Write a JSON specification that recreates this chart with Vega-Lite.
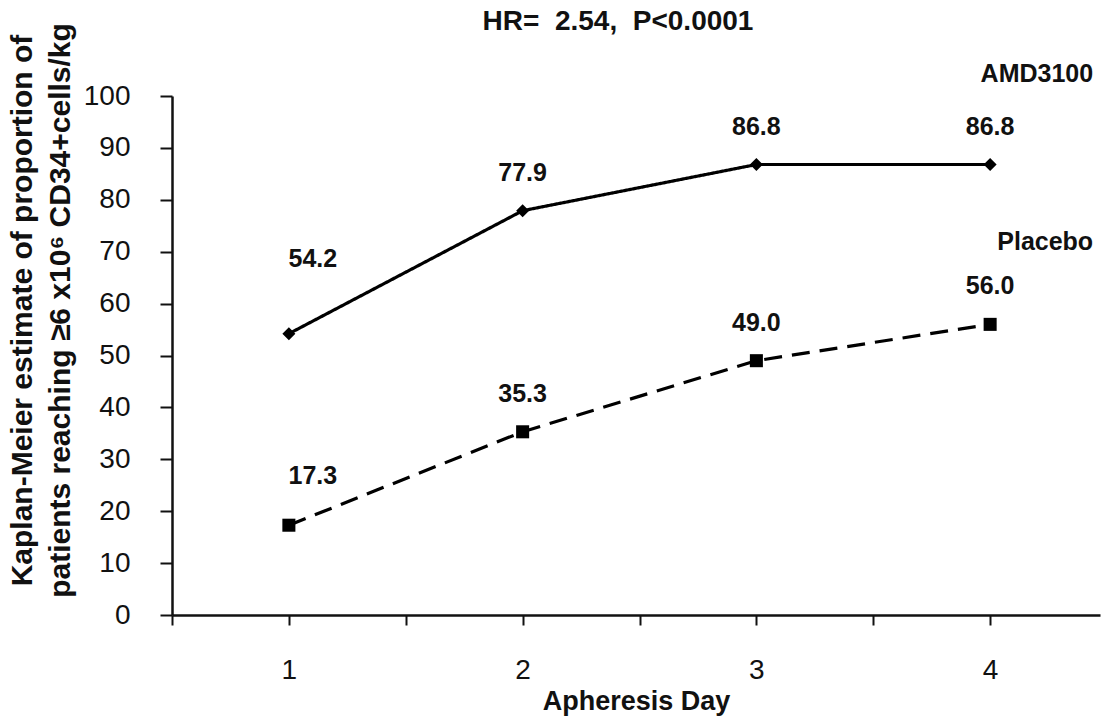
{
  "$schema": "https://vega.github.io/schema/vega-lite/v6.json",
  "autosize": "none",
  "width": 928,
  "height": 519,
  "padding": {"left": 172, "top": 96, "right": 1, "bottom": 101},
  "background": "white",
  "config": {
    "view": {"stroke": null},
    "font": "Liberation Sans"
  },
  "title": {
    "text": "HR=\u00a0 2.54,\u00a0 P<0.0001",
    "font": "Liberation Sans",
    "fontSize": 28,
    "fontWeight": "bold",
    "color": "#111",
    "anchor": "middle",
    "dx": -18,
    "offset": -13
  },
  "data": {
    "values": [
      {"day": 1, "pct": 54.2, "series": "AMD3100"},
      {"day": 2, "pct": 77.9, "series": "AMD3100"},
      {"day": 3, "pct": 86.8, "series": "AMD3100"},
      {"day": 4, "pct": 86.8, "series": "AMD3100"},
      {"day": 1, "pct": 17.3, "series": "Placebo"},
      {"day": 2, "pct": 35.3, "series": "Placebo"},
      {"day": 3, "pct": 49.0, "series": "Placebo"},
      {"day": 4, "pct": 56.0, "series": "Placebo"}
    ]
  },
  "encoding": {
    "x": {
      "field": "day",
      "type": "quantitative",
      "scale": {"domain": [0.5, 4.47], "nice": false, "zero": false},
      "axis": {
        "title": "Apheresis Day",
        "titleFont": "Liberation Sans",
        "titleFontSize": 27,
        "titleFontWeight": "bold",
        "titleColor": "#111",
        "titleBaseline": "middle",
        "titleY": 86,
        "values": [0.5, 1, 1.5, 2, 2.5, 3, 3.5, 4],
        "labelExpr": "datum.value % 1 === 0 ? format(datum.value, 'd') : ''",
        "labelFont": "Liberation Sans",
        "labelFontSize": 28,
        "labelColor": "#111",
        "labelPadding": 31,
        "labelFlush": false,
        "labelOverlap": false,
        "tickSize": 10,
        "tickWidth": 2,
        "tickColor": "#111",
        "domainColor": "#111",
        "domainWidth": 2.5,
        "grid": false
      }
    },
    "y": {
      "field": "pct",
      "type": "quantitative",
      "scale": {"domain": [0, 100], "nice": false},
      "axis": {
        "title": ["Kaplan-Meier estimate of proportion of", "patients reaching ≥6 x10⁶ CD34+cells/kg"],
        "titleFont": "Liberation Sans",
        "titleFontSize": 30,
        "titleFontWeight": "bold",
        "titleColor": "#111",
        "titleAngle": -90,
        "titleAlign": "center",
        "titleBaseline": "middle",
        "titleLineHeight": 38,
        "titleX": -150,
        "titleY": 214,
        "values": [0, 10, 20, 30, 40, 50, 60, 70, 80, 90, 100],
        "labelFont": "Liberation Sans",
        "labelFontSize": 28,
        "labelColor": "#111",
        "labelPadding": 30,
        "labelFlush": false,
        "tickSize": 12,
        "tickWidth": 2,
        "tickColor": "#111",
        "domainColor": "#111",
        "domainWidth": 2.5,
        "grid": false
      }
    }
  },
  "layer": [
    {
      "mark": {"type": "line", "color": "#000", "strokeWidth": 3.2},
      "encoding": {
        "detail": {"field": "series"},
        "strokeDash": {
          "field": "series",
          "type": "nominal",
          "scale": {"domain": ["AMD3100", "Placebo"], "range": [[1, 0], [18, 10]]},
          "legend": null
        }
      }
    },
    {
      "mark": {"type": "point", "filled": true, "color": "#000", "opacity": 1, "size": 170},
      "encoding": {
        "shape": {
          "field": "series",
          "type": "nominal",
          "scale": {"domain": ["AMD3100", "Placebo"], "range": ["diamond", "square"]},
          "legend": null
        }
      }
    },
    {
      "transform": [{"filter": "datum.day > 1"}],
      "mark": {"type": "text", "font": "Liberation Sans", "fontSize": 25, "fontWeight": "bold", "color": "#111", "align": "center", "baseline": "middle", "dy": -38},
      "encoding": {"text": {"field": "pct", "type": "quantitative", "format": ".1f"}}
    },
    {
      "transform": [{"filter": "datum.day == 1 && datum.series == 'AMD3100'"}],
      "mark": {"type": "text", "font": "Liberation Sans", "fontSize": 25, "fontWeight": "bold", "color": "#111", "align": "center", "baseline": "middle", "dx": 24, "dy": -75},
      "encoding": {"text": {"field": "pct", "type": "quantitative", "format": ".1f"}}
    },
    {
      "transform": [{"filter": "datum.day == 1 && datum.series == 'Placebo'"}],
      "mark": {"type": "text", "font": "Liberation Sans", "fontSize": 25, "fontWeight": "bold", "color": "#111", "align": "center", "baseline": "middle", "dx": 24, "dy": -49},
      "encoding": {"text": {"field": "pct", "type": "quantitative", "format": ".1f"}}
    },
    {
      "transform": [{"filter": "datum.day == 4 && datum.series == 'AMD3100'"}],
      "mark": {"type": "text", "font": "Liberation Sans", "fontSize": 25, "fontWeight": "bold", "color": "#111", "align": "right", "baseline": "middle", "dx": 103, "dy": -91},
      "encoding": {"text": {"field": "series", "type": "nominal"}}
    },
    {
      "transform": [{"filter": "datum.day == 4 && datum.series == 'Placebo'"}],
      "mark": {"type": "text", "font": "Liberation Sans", "fontSize": 25, "fontWeight": "bold", "color": "#111", "align": "right", "baseline": "middle", "dx": 103, "dy": -82},
      "encoding": {"text": {"field": "series", "type": "nominal"}}
    }
  ]
}
